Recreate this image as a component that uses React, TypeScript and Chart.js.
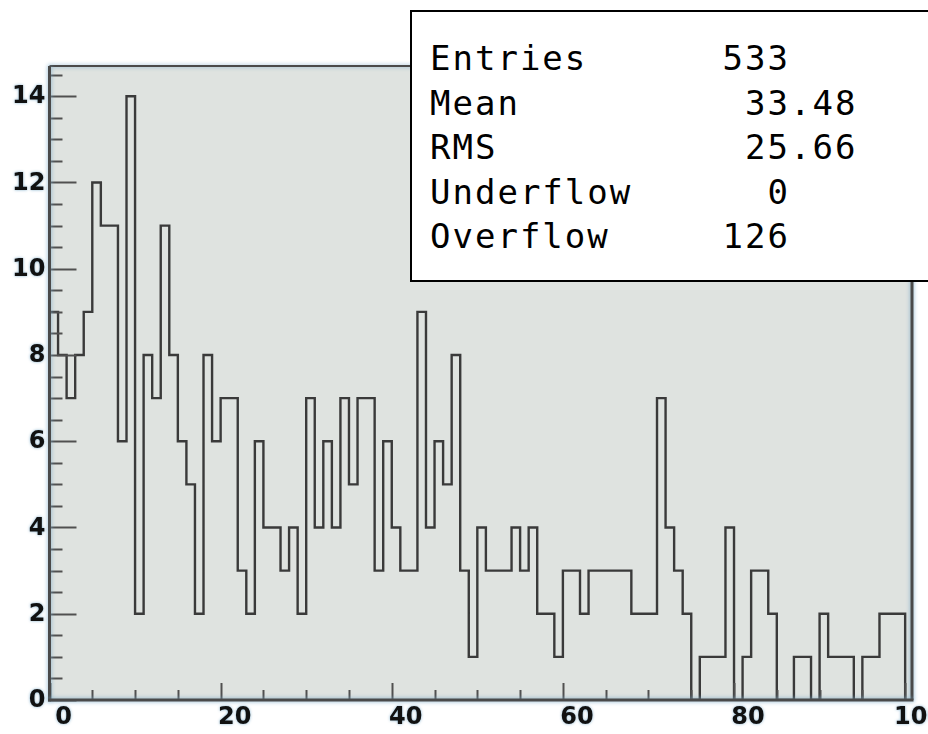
import React, { useEffect, useRef } from "react";
import { Chart, registerables } from "chart.js";

Chart.register(...registerables);

// Histogram definition: 100 unit-wide bins starting at 0
const X_MIN = 0;
const BIN_WIDTH = 1;
const X_AXIS_MAX = 100.8;
const Y_AXIS_MAX = 14.7;

const binCounts = [
  9, 8, 7, 8, 9, 12, 11, 11, 6, 14,
  2, 8, 7, 11, 8, 6, 5, 2, 8, 6,
  7, 7, 3, 2, 6, 4, 4, 3, 4, 2,
  7, 4, 6, 4, 7, 5, 7, 7, 3, 6,
  4, 3, 3, 9, 4, 6, 5, 8, 3, 1,
  4, 3, 3, 3, 4, 3, 4, 2, 2, 1,
  3, 3, 2, 3, 3, 3, 3, 3, 2, 2,
  2, 7, 4, 3, 2, 0, 1, 1, 1, 4,
  0, 1, 3, 3, 2, 0, 0, 1, 1, 0,
  2, 1, 1, 1, 0, 1, 1, 2, 2, 2,
];

const xTickLabels = [0, 20, 40, 60, 80, 100];
const yTickLabels = [0, 2, 4, 6, 8, 10, 12, 14];
const xMinorStep = 5;
const yMinorStep = 0.5;

const statNames = ["Entries", "Mean", "RMS", "Underflow", "Overflow"];
const statValues = ["533", "33.48", "25.66", "0", "126"];

const FRAME_FILL = "#dfe3e0";
const LINE_COLOR = "#3a3a3a";
const AXIS_COLOR = "#4a4a4a";
const HALO = "rgba(120, 168, 200, 0.9)";
const LABEL_FONT = 'bold 24px "DejaVu Sans"';

// Step outline of the histogram, closed down to zero at both ends
function histogramPoints() {
  const pts: { x: number; y: number }[] = [{ x: X_MIN, y: 0 }];
  binCounts.forEach((c, i) => pts.push({ x: X_MIN + i * BIN_WIDTH, y: c }));
  pts.push({ x: X_MIN + binCounts.length * BIN_WIDTH, y: 0 });
  return pts;
}

const frameDecor = {
  id: "frameDecor",
  beforeDatasetsDraw(chart: any) {
    const { ctx, chartArea: a } = chart;
    ctx.save();
    ctx.fillStyle = FRAME_FILL;
    ctx.fillRect(a.left, a.top, a.right - a.left, a.bottom - a.top);
    ctx.restore();
  },
  afterDatasetsDraw(chart: any) {
    const { ctx, chartArea: a } = chart;
    const xs = chart.scales.x;
    const ys = chart.scales.y;
    const line = (x1: number, y1: number, x2: number, y2: number) => {
      ctx.beginPath();
      ctx.moveTo(x1, y1);
      ctx.lineTo(x2, y2);
      ctx.stroke();
    };

    ctx.save();
    // frame top and right edges
    ctx.strokeStyle = AXIS_COLOR;
    ctx.shadowColor = HALO;
    ctx.shadowBlur = 4;
    ctx.lineWidth = 2;
    line(a.left, a.top, a.right, a.top);
    ctx.lineWidth = 3;
    line(a.right, a.top, a.right, a.bottom);

    // inward tick marks
    ctx.shadowBlur = 0;
    ctx.lineWidth = 2;
    ctx.strokeStyle = "#505050";
    for (let v = 0; v <= Y_AXIS_MAX + 1e-9; v += yMinorStep) {
      const py = Math.round(ys.getPixelForValue(v)) + 0.5;
      const major = yTickLabels.includes(v);
      line(a.left, py, a.left + (major ? 27 : 13), py);
    }
    for (let v = 0; v <= xTickLabels[xTickLabels.length - 1] + 1e-9; v += xMinorStep) {
      const px = Math.round(xs.getPixelForValue(v)) + 0.5;
      const major = xTickLabels.includes(v);
      line(px, a.bottom, px, a.bottom - (major ? 17 : 10));
    }

    // axis lines
    ctx.strokeStyle = AXIS_COLOR;
    ctx.shadowColor = HALO;
    ctx.shadowBlur = 4;
    ctx.lineWidth = 3;
    line(a.left, a.top, a.left, a.bottom + 1.5);
    line(a.left - 1.5, a.bottom, a.right + 1.5, a.bottom);

    // tick labels
    ctx.font = LABEL_FONT;
    ctx.fillStyle = "#111111";
    ctx.shadowColor = HALO;
    ctx.shadowBlur = 3;
    ctx.textAlign = "right";
    ctx.textBaseline = "middle";
    yTickLabels.forEach((v) => {
      ctx.fillText(String(v), a.left - 4, ys.getPixelForValue(v) + 1);
    });
    ctx.textAlign = "center";
    ctx.textBaseline = "top";
    xTickLabels.forEach((v) => {
      ctx.fillText(String(v), xs.getPixelForValue(v) + 14, a.bottom + 6);
    });
    ctx.restore();
  },
};

function HistogramCanvas() {
  const ref = useRef<HTMLCanvasElement | null>(null);
  useEffect(() => {
    if (!ref.current) return;
    const chart = new Chart(ref.current, {
      type: "line",
      data: {
        datasets: [
          {
            data: histogramPoints(),
            stepped: "before",
            borderColor: LINE_COLOR,
            borderWidth: 2.4,
            pointRadius: 0,
            fill: false,
          },
        ],
      },
      options: {
        animation: false,
        responsive: false,
        maintainAspectRatio: false,
        devicePixelRatio: 1,
        layout: { padding: { left: 49.5, top: 66, right: 16, bottom: 34 } },
        plugins: { legend: { display: false }, tooltip: { enabled: false } },
        scales: {
          x: { type: "linear", min: X_MIN, max: X_AXIS_MAX, display: false },
          y: { type: "linear", min: 0, max: Y_AXIS_MAX, display: false },
        },
      },
      plugins: [frameDecor],
    } as any);
    return () => chart.destroy();
  }, []);
  return (
    <canvas
      ref={ref}
      width={928}
      height={734}
      style={{ position: "absolute", left: 0, top: 0, width: 928, height: 734 }}
    />
  );
}

// Statistics panel: values aligned on the decimal point
const CHAR_W = 22.5;
const VALUE_POINT_X = 790;

function StatsBox() {
  return (
    <>
      <div
        style={{
          position: "absolute",
          left: 410,
          top: 10,
          width: 540,
          height: 272,
          boxSizing: "border-box",
          border: "2px solid #000",
          background: "#fff",
        }}
      />
      {statNames.map((name, i) => {
        const val = statValues[i];
        const intLen = val.split(".")[0].length;
        const rowStyle: React.CSSProperties = {
          position: "absolute",
          top: 36 + i * 44.5,
          height: 44.5,
          lineHeight: "44.5px",
          fontFamily: '"DejaVu Sans Mono", monospace',
          fontSize: 34,
          letterSpacing: "2px",
          color: "#000",
          whiteSpace: "pre",
        };
        return (
          <React.Fragment key={name}>
            <div style={{ ...rowStyle, left: 430 }}>{name}</div>
            <div style={{ ...rowStyle, left: VALUE_POINT_X - intLen * CHAR_W }}>{val}</div>
          </React.Fragment>
        );
      })}
    </>
  );
}

export default function App() {
  return (
    <div
      style={{
        position: "absolute",
        left: 0,
        top: 0,
        width: 928,
        height: 734,
        overflow: "hidden",
        background: "#fff",
      }}
    >
      <HistogramCanvas />
      <StatsBox />
    </div>
  );
}
